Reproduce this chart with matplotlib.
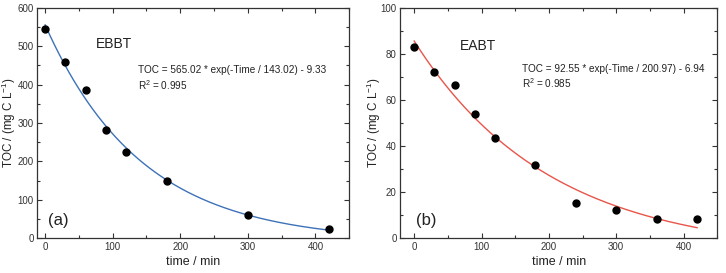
import numpy as np
import matplotlib
matplotlib.use("Agg")
import matplotlib.pyplot as plt
from matplotlib.ticker import MultipleLocator

plt.rcParams['font.family'] = ['Liberation Sans', 'DejaVu Sans']
plt.rcParams['mathtext.fontset'] = 'custom'
plt.rcParams['mathtext.rm'] = 'Liberation Sans'
plt.rcParams['mathtext.it'] = 'Liberation Sans'

# Data
time_a = [0, 30, 60, 90, 120, 180, 300, 420]
toc_a = [545, 458, 385, 282, 224, 148, 60, 23]
time_b = [0, 30, 60, 90, 120, 180, 240, 300, 360, 420]
toc_b = [83, 72, 66.5, 54, 43.5, 31.8, 15.2, 12.3, 8.4, 8.1]

# Fit parameters (A, tau, c) from the chart equations
fit_a = [565.02, 143.02, 9.33]
fit_b = [92.55, 200.97, 6.94]

fig = plt.figure(figsize=(7.26, 2.73), dpi=100)
ax1 = fig.add_axes([0.051, 0.128, 0.430, 0.843])
ax2 = fig.add_axes([0.551, 0.128, 0.437, 0.843])

def style(ax, xlim, ylim, ymaj, ymin, ylab_x):
    ax.set_xlim(*xlim)
    ax.set_ylim(*ylim)
    ax.xaxis.set_major_locator(MultipleLocator(100))
    ax.xaxis.set_minor_locator(MultipleLocator(50))
    ax.yaxis.set_major_locator(MultipleLocator(ymaj))
    ax.yaxis.set_minor_locator(MultipleLocator(ymin))
    ax.tick_params(which='both', direction='in', top=True, right=True,
                   labelsize=7, colors='#333333', width=0.8, pad=2.5)
    ax.tick_params(which='major', length=3.5)
    ax.tick_params(which='minor', length=2)
    for s in ax.spines.values():
        s.set_color('#333333')
        s.set_linewidth(0.9)
    ax.set_xlabel('time / min', fontsize=9, color='#222222', labelpad=3)
    ax.set_ylabel(r'TOC / (mg C L$^{\mathregular{-1}}$)', fontsize=8.4, color='#222222')
    ax.yaxis.set_label_coords(ylab_x, 0.5)

tt = np.linspace(0, 420, 300)

# Panel a
style(ax1, (-12, 450), (0, 600), 100, 50, -0.061)
ax1.plot(tt, fit_a[0] * np.exp(-tt / fit_a[1]) - fit_a[2], color='#3d72b8', lw=1.0, zorder=2)
ax1.plot(time_a, toc_a, 'o', color='black', ms=5, zorder=3)
ax1.text(75, 507, 'EBBT', fontsize=10, va='center', ha='left', color='#222222')
ax1.text(138, 439, 'TOC = 565.02 * exp(-Time / 143.02) - 9.33', fontsize=7.2,
         va='center', ha='left', color='#222222')
ax1.text(138, 400, r'R$^{\mathregular{2}}$ = 0.995', fontsize=7.2, va='center', ha='left', color='#222222')
ax1.text(4, 46, '(a)', fontsize=12, va='center', ha='left', color='#222222')

# Panel b
style(ax2, (-21, 450), (0, 100), 20, 10, -0.055)
ax2.plot(tt, fit_b[0] * np.exp(-tt / fit_b[1]) - fit_b[2], color='#e8554a', lw=1.0, zorder=2)
ax2.plot(time_b, toc_b, 'o', color='black', ms=5, zorder=3)
ax2.text(68, 83.6, 'EABT', fontsize=10, va='center', ha='left', color='#222222')
ax2.text(160, 73.5, 'TOC = 92.55 * exp(-Time / 200.97) - 6.94', fontsize=7.2,
         va='center', ha='left', color='#222222')
ax2.text(160, 67.3, r'R$^{\mathregular{2}}$ = 0.985', fontsize=7.2, va='center', ha='left', color='#222222')
ax2.text(3, 7.8, '(b)', fontsize=12, va='center', ha='left', color='#222222')

fig.savefig('out.png', dpi=100)
